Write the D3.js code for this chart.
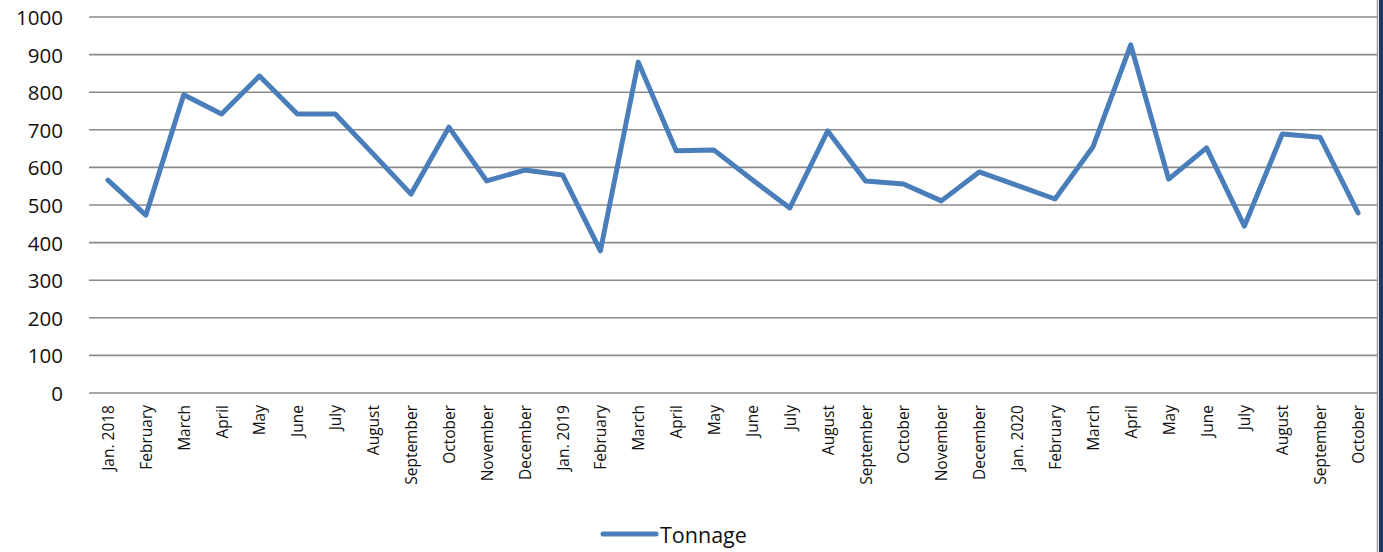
<!DOCTYPE html>
<html>
<head>
<meta charset="utf-8">
<script src="https://cdn.jsdelivr.net/npm/d3@7"></script>
<style>
  html, body { margin: 0; padding: 0; background: #fff; }
  svg { display: block; font-family: "Open Sans", "Noto Sans", sans-serif; }
</style>
</head>
<body>
<div id="chart"></div>
<script>
const months = [
  "Jan. 2018", "February", "March", "April", "May", "June", "July", "August",
  "September", "October", "November", "December",
  "Jan. 2019", "February", "March", "April", "May", "June", "July", "August",
  "September", "October", "November", "December",
  "Jan. 2020", "February", "March", "April", "May", "June", "July", "August",
  "September", "October"
];
const tonnage = [
  566, 473, 793, 742, 843, 742, 742, 636, 529, 707, 564, 593,
  580, 378, 880, 644, 646, 568, 492, 697, 564, 556, 511, 588,
  552, 516, 654, 926, 569, 652, 444, 689, 680, 479
];
const yTicks = [0, 100, 200, 300, 400, 500, 600, 700, 800, 900, 1000];
const seriesName = "Tonnage";

const W = 1383, H = 552;
const margin = { top: 17, right: 6, bottom: 159, left: 89 };
const width = W - margin.left - margin.right,
  height = H - margin.top - margin.bottom;

const root = d3.select("#chart").append("svg")
  .attr("width", W)
  .attr("height", H);

const svg = root.append("g")
  .attr("transform", `translate(${margin.left},${margin.top})`);

const keys = months.map((m, i) => i);
const x = d3.scaleBand().domain(keys).range([0, width]);
const y = d3.scaleLinear().domain([0, 1000]).range([height, 0]);

// gridlines
svg.selectAll("line.grid")
  .data(yTicks)
  .join("line")
  .attr("class", "grid")
  .attr("x1", 0)
  .attr("x2", width)
  .attr("y1", d => y(d))
  .attr("y2", d => y(d))
  .style("stroke", "#8a8a8a")
  .style("stroke-width", 1.6);

// y labels
svg.selectAll("text.ylab")
  .data(yTicks)
  .join("text")
  .attr("class", "ylab")
  .attr("x", -26)
  .attr("y", d => y(d))
  .attr("text-anchor", "end")
  .attr("dominant-baseline", "central")
  .style("font-size", "20.5px")
  .style("fill", "#111")
  .text(d => d);

// x labels, rotated
svg.selectAll("text.xlab")
  .data(keys)
  .join("text")
  .attr("class", "xlab")
  .attr("transform", d => `translate(${x(d) + x.bandwidth() / 2},${height + 12}) rotate(-90)`)
  .attr("text-anchor", "end")
  .attr("dominant-baseline", "central")
  .style("font-size", "15.5px")
  .style("fill", "#111")
  .text(d => months[d]);

// series line
const line = d3.line()
  .x((d, i) => x(i) + x.bandwidth() / 2)
  .y(d => y(d));

svg.append("path")
  .datum(tonnage)
  .attr("d", line)
  .style("fill", "none")
  .style("stroke", "#4a7ebb")
  .style("stroke-width", 5)
  .style("stroke-linejoin", "round")
  .style("stroke-linecap", "round");

// right frame edges
root.append("line")
  .attr("x1", 1377.5).attr("x2", 1377.5)
  .attr("y1", 0).attr("y2", H)
  .style("stroke", "#9a9a9a")
  .style("stroke-width", 1.5);
root.append("rect")
  .attr("x", 1379).attr("y", 0)
  .attr("width", 4).attr("height", H)
  .style("fill", "#1f3864");

// legend
const legend = root.append("g").attr("transform", "translate(603,534)");
legend.append("line")
  .attr("x1", 0).attr("x2", 53)
  .attr("y1", 0).attr("y2", 0)
  .style("stroke", "#4a7ebb")
  .style("stroke-width", 5)
  .style("stroke-linecap", "round");
legend.append("text")
  .attr("x", 57)
  .attr("y", 0)
  .attr("dominant-baseline", "central")
  .style("font-size", "21.5px")
  .style("fill", "#111")
  .text(seriesName);
</script>
</body>
</html>
